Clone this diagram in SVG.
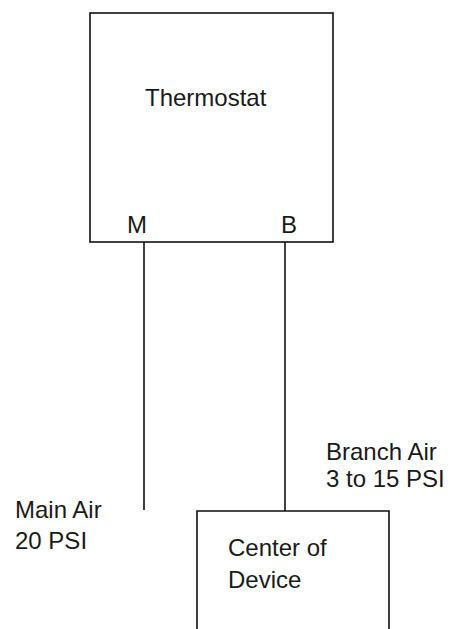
<svg xmlns="http://www.w3.org/2000/svg" width="453" height="629" viewBox="0 0 453 629">
<style>
.box{fill:none;stroke:#111;stroke-width:1.6}
.wire{fill:none;stroke:#111;stroke-width:1.6}
text{font-family:"Liberation Sans",Arial,sans-serif;font-size:24px;fill:#1a1a1a}
</style>
<rect width="453" height="629" fill="#fff"/>
<g id="thermostat">
<rect class="box" x="90" y="13" width="243" height="229"/>
<text x="145" y="106">Thermostat</text>
<text x="127" y="233">M</text>
<text x="281" y="233">B</text>
</g>
<g id="device">
<path class="box" d="M197,629 V511 H389 V629"/>
<text x="228" y="556">Center of</text>
<text x="228" y="588">Device</text>
</g>
<g id="connectors">
<line class="wire" x1="144" y1="242" x2="144" y2="510"/>
<line class="wire" x1="285" y1="242" x2="285" y2="511"/>
</g>
<g id="labels">
<text x="15" y="518">Main Air</text>
<text x="15" y="549">20 PSI</text>
<text x="326" y="460">Branch Air</text>
<text x="326" y="487">3 to 15 PSI</text>
</g>
</svg>
